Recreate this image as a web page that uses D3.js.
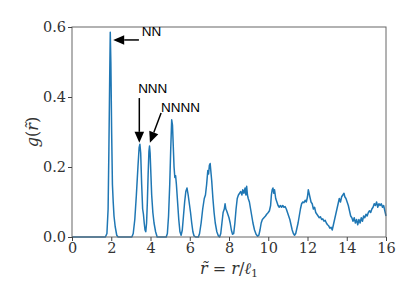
<!DOCTYPE html>
<html>
<head>
<meta charset="utf-8">
<script src="https://cdn.jsdelivr.net/npm/d3@7"></script>
<style>
body{margin:0;background:#fff;}
</style>
</head>
<body>
<svg id="gr"></svg>
<script>
// r bins (r / l1)
var rBins = [0,1.70,1.78,1.84,1.88,1.92,1.95,1.98,2.02,2.06,2.10,2.14,2.20,2.28,2.35,
3.05,3.12,3.20,3.28,3.36,3.42,3.46,3.50,3.55,3.60,3.64,3.68,3.72,3.76,3.80,3.84,3.88,3.92,3.95,3.98,4.02,4.06,4.12,4.18,4.26,4.34,
4.80,4.86,4.92,4.98,5.03,5.08,5.12,5.16,5.20,5.24,5.28,5.32,5.38,5.44,5.50,5.56,5.62,5.68,5.74,5.80,5.86,5.92,5.98,6.04,6.10,6.16,6.22,6.30,
6.44,6.50,6.58,6.66,6.74,6.80,6.86,6.92,6.96,7.00,7.04,7.08,7.12,7.18,7.24,7.30,7.38,7.46,7.52,7.58,7.64,7.70,7.76,7.80,7.84,7.88,7.94,8.00,8.06,8.12,8.18,
8.24,8.30,8.36,8.42,8.48,8.54,8.60,8.66,8.70,8.76,8.82,8.86,8.90,8.94,8.98,9.04,9.10,9.16,9.22,9.30,9.38,9.46,9.52,9.58,9.64,9.70,9.78,9.86,9.92,
10.00,10.06,10.12,10.16,10.20,10.24,10.28,10.32,10.38,10.44,10.50,10.56,10.62,10.68,10.74,10.80,10.86,10.92,10.98,11.04,11.10,11.16,11.22,11.28,11.34,
11.40,11.46,11.52,11.58,11.64,11.70,11.76,11.82,11.88,11.94,12.00,12.04,12.08,12.12,12.18,12.24,12.30,12.36,12.42,12.48,12.54,12.60,12.66,12.72,12.78,12.84,12.90,12.96,
13.02,13.08,13.14,13.20,13.26,13.32,13.38,13.44,13.50,13.56,13.62,13.68,13.74,13.80,13.86,13.90,13.96,14.02,14.08,14.14,14.20,14.26,14.32,14.38,14.44,14.50,14.56,14.62,14.68,14.74,14.80,14.86,14.92,14.98,
15.04,15.10,15.16,15.22,15.28,15.34,15.40,15.46,15.52,15.58,15.64,15.70,15.76,15.82,15.88,15.94,16.00]

// g(r) values
var gVals = [0,0,0.01,0.08,0.25,0.45,0.585,0.50,0.30,0.15,0.10,0.06,0.03,0.005,0,
0,0.01,0.05,0.12,0.20,0.255,0.265,0.24,0.15,0.08,0.065,0.04,0.02,0.015,0.04,0.10,0.18,0.245,0.26,0.24,0.18,0.12,0.07,0.04,0.015,0,
0,0.01,0.06,0.15,0.25,0.335,0.32,0.26,0.20,0.17,0.175,0.15,0.10,0.05,0.015,0.005,0.02,0.06,0.10,0.13,0.14,0.12,0.095,0.07,0.04,0.015,0.003,0,
0,0.01,0.04,0.08,0.11,0.12,0.15,0.19,0.18,0.205,0.21,0.185,0.16,0.11,0.07,0.04,0.015,0.003,0,0.01,0.04,0.07,0.08,0.095,0.08,0.075,0.065,0.055,0.04,0.02,0.008,
0.01,0.04,0.08,0.11,0.12,0.125,0.13,0.12,0.135,0.125,0.14,0.12,0.145,0.12,0.11,0.10,0.08,0.06,0.04,0.02,0.008,0.002,0.005,0.02,0.04,0.05,0.055,0.06,0.065,
0.07,0.075,0.09,0.12,0.135,0.14,0.125,0.135,0.11,0.10,0.09,0.085,0.09,0.085,0.09,0.085,0.087,0.08,0.07,0.06,0.05,0.035,0.02,0.01,0.005,
0.01,0.025,0.04,0.06,0.08,0.095,0.10,0.098,0.105,0.10,0.115,0.135,0.125,0.115,0.10,0.095,0.08,0.085,0.07,0.065,0.06,0.055,0.058,0.05,0.052,0.045,0.048,0.04,
0.035,0.032,0.025,0.028,0.02,0.035,0.05,0.065,0.08,0.095,0.11,0.10,0.115,0.12,0.125,0.115,0.11,0.10,0.09,0.075,0.06,0.055,0.045,0.055,0.04,0.05,0.035,0.05,0.04,0.055,0.045,0.06,0.055,0.065,
0.06,0.07,0.075,0.07,0.08,0.085,0.095,0.09,0.10,0.085,0.095,0.09,0.095,0.085,0.09,0.075,0.06]

var xTicks = [0,2,4,6,8,10,12,14,16]
var yTicks = [0,0.2,0.4,0.6]

// annotations: label, arrow tip, arrow tail, text position (data coords)
var annLabels = ["NN","NNN","NNNN"]
var annTip = [[2.10,0.563],[3.43,0.269],[3.97,0.269]]
var annTail = [[3.41,0.563],[3.43,0.397],[4.54,0.354]]
var annText = [[3.55,0.574],[3.37,0.411],[4.53,0.357]]

var serif = "DejaVu Serif"
var sans = "Liberation Sans"

var screen = {width:407,height:305}
var margins = {left:72,right:21,top:27,bottom:68}
var graph = {width:screen.width-margins.left-margins.right,
             height:screen.height-margins.top-margins.bottom}

var svg = d3.select("#gr")
    .attr("width",screen.width)
    .attr("height",screen.height)

var target = svg.append("g")
    .attr("transform","translate("+margins.left+","+margins.top+")")

var xScale = d3.scaleLinear().domain([0,16]).range([0,graph.width])
var yScale = d3.scaleLinear().domain([0,0.6]).range([graph.height,0])

var pts = rBins.map(function(r,i){return [r,gVals[i]]})

target.append("path")
    .datum(pts)
    .attr("fill","none")
    .attr("stroke","#1f77b4")
    .attr("stroke-width",1.5)
    .attr("stroke-linejoin","round")
    .attr("d",d3.line()
        .x(function(d){return xScale(d[0])})
        .y(function(d){return yScale(d[1])}))

// frame
target.append("rect")
    .attr("x",0).attr("y",0)
    .attr("width",graph.width).attr("height",graph.height)
    .attr("fill","none").attr("stroke","#666").attr("stroke-width",1)

var xAxis = d3.axisBottom(xScale).tickValues(xTicks).tickSize(4).tickPadding(2)
    .tickFormat(d3.format("d"))
var yAxis = d3.axisLeft(yScale).tickValues(yTicks).tickSize(4).tickPadding(2)
    .tickFormat(d3.format(".1f"))

var gx = target.append("g")
    .attr("transform","translate(0,"+graph.height+")")
    .call(xAxis)
var gy = target.append("g").call(yAxis)
gx.select(".domain").remove()
gy.select(".domain").remove()
gx.attr("font-family",serif).attr("font-size",14.5)
gy.attr("font-family",serif).attr("font-size",14.5)
target.selectAll(".tick line").attr("stroke","#444")
target.selectAll(".tick text").attr("fill","#333")

// annotations
var ann = target.append("g")
annLabels.forEach(function(lab,i){
    var x1 = xScale(annTail[i][0]), y1 = yScale(annTail[i][1])
    var x2 = xScale(annTip[i][0]), y2 = yScale(annTip[i][1])
    var ang = Math.atan2(y2-y1,x2-x1)
    var hl = 11, hw = 4.8
    var bx = x2-hl*Math.cos(ang), by = y2-hl*Math.sin(ang)
    ann.append("line")
        .attr("x1",x1).attr("y1",y1).attr("x2",bx).attr("y2",by)
        .attr("stroke","#000").attr("stroke-width",1.5)
    ann.append("path")
        .attr("d","M"+x2+","+y2+
            "L"+(bx+hw*Math.sin(ang))+","+(by-hw*Math.cos(ang))+
            "L"+(bx-hw*Math.sin(ang))+","+(by+hw*Math.cos(ang))+"Z")
        .attr("fill","#000")
    ann.append("text")
        .attr("font-family",sans)
        .attr("font-size",13.5)
        .attr("x",xScale(annText[i][0]))
        .attr("y",yScale(annText[i][1]))
        .text(lab)
})

// axis labels
var xl = svg.append("text")
    .attr("font-family",serif).attr("font-size",16).attr("fill","#333")
    .attr("text-anchor","middle")
    .attr("x",margins.left+graph.width/2)
    .attr("y",274)
xl.append("tspan").attr("font-style","italic").text("r\u0303")
xl.append("tspan").text(" = ")
xl.append("tspan").attr("font-style","italic").text("r")
xl.append("tspan").text("/")
xl.append("tspan").attr("font-style","italic").text("\u2113")
xl.append("tspan").attr("font-size",11).attr("dy",3).text("1")

var yl = svg.append("g")
    .attr("transform","translate(38,"+(margins.top+graph.height/2)+")")
    .append("text")
    .attr("font-family",serif).attr("font-size",16).attr("fill","#333")
    .attr("text-anchor","middle")
    .attr("transform","rotate(270)")
yl.append("tspan").attr("font-style","italic").text("g")
yl.append("tspan").text("(")
yl.append("tspan").attr("font-style","italic").text("r\u0303")
yl.append("tspan").text(")")
</script>
</body>
</html>
